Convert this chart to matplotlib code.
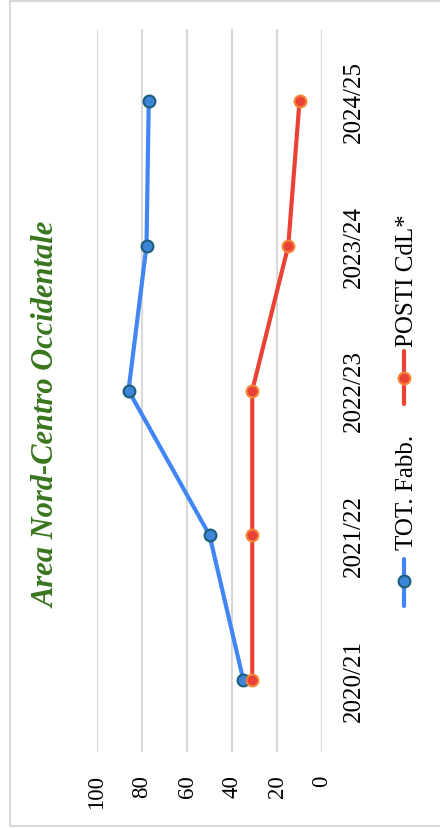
import matplotlib.pyplot as plt
from matplotlib.lines import Line2D
from matplotlib.patches import Rectangle

# data (chart is drawn rotated 90 degrees, like the reference)
anni = ['2020/21', '2021/22', '2022/23', '2023/24', '2024/25']
tot_fabb = [35, 50, 86, 78, 77]
posti_cdl = [31, 31, 31, 15, 10]
valori_tick = [0, 20, 40, 60, 80, 100]

plt.rcParams['font.family'] = ['Liberation Serif', 'DejaVu Serif']

fig = plt.figure(figsize=(4.4, 8.29), dpi=100)
ax = fig.add_axes([97 / 440, 76 / 829, 225 / 440, 723 / 829])

pos = list(range(len(anni)))
ax.plot(tot_fabb, pos, color='#4285F4', lw=3, marker='o', ms=8.5,
        mfc='#3d85d8', mec='#1b5e7a', mew=1.5, zorder=3)
ax.plot(posti_cdl, pos, color='#EA4335', lw=3, marker='o', ms=8.5,
        mfc='#EA4335', mec='#F4863A', mew=1.5, zorder=3)

ax.set_xlim(100, 0)
ax.set_ylim(-0.5, len(anni) - 0.5)
ax.set_xticks(valori_tick)
ax.set_xticklabels([str(v) for v in valori_tick], rotation=90, fontsize=16.5)
ax.set_yticks(pos)
ax.set_yticklabels(anni, rotation=90, fontsize=18, va='center')
ax.yaxis.tick_right()
ax.tick_params(axis='x', length=0, pad=16)
ax.tick_params(axis='y', length=0, pad=15)
ax.grid(axis='x', color='#d9d9d9', lw=1.5)
ax.set_axisbelow(True)
for s in ax.spines.values():
    s.set_visible(False)

# title
fig.text(47 / 440, 1 - 415 / 829, 'Area Nord-Centro Occidentale', rotation=90,
         ha='center', va='center', fontsize=22, fontweight='bold',
         fontstyle='italic', color='#38761D')

# legend, drawn by hand because it is rotated
lx = 404 / 440
for col, mfc, mec, y0, y1, ym, label, ty in [
        ('#4285F4', '#3d85d8', '#1b5e7a', 607, 560, 582, 'TOT. Fabb.', 550),
        ('#EA4335', '#EA4335', '#F4863A', 405, 352, 379, 'POSTI CdL*', 347)]:
    fig.add_artist(Line2D([lx, lx], [1 - y0 / 829, 1 - y1 / 829], color=col,
                          lw=3, solid_capstyle='round'))
    fig.add_artist(Line2D([lx], [1 - ym / 829], marker='o', ms=8.5, mfc=mfc,
                          mec=mec, mew=1.5, ls='none'))
    fig.text(lx + 3 / 440, 1 - ty / 829, label, rotation=90, ha='center',
             va='bottom', fontsize=18)

# outer frame
fig.add_artist(Rectangle((10 / 440, 2 / 829), 1.2, 825 / 829, fill=False,
                         ec='#d9d9d9', lw=1.5, transform=fig.transFigure))

fig.savefig('out.png', dpi=100)
